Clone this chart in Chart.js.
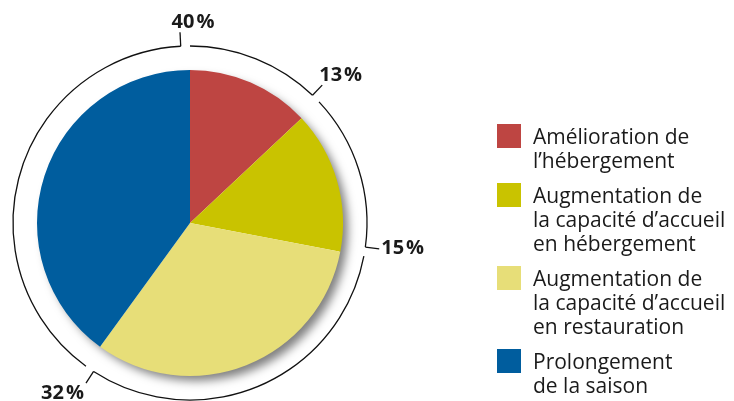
<!DOCTYPE html>
<html lang="fr">
<head>
<meta charset="utf-8">
<title>Répartition des projets</title>
<script src="https://cdn.jsdelivr.net/npm/chart.js@4.4.3/dist/chart.umd.min.js"></script>
<style>
  html, body { margin: 0; padding: 0; background: #fff; }
  #wrap { width: 734px; height: 401px; }
</style>
</head>
<body>
<div id="wrap"><canvas id="pie" width="734" height="401"></canvas></div>
<script>
// catégories (lignes de la légende) et valeurs en %
const categories = [
  ["Amélioration de", "l’hébergement"],
  ["Augmentation de", "la capacité d’accueil", "en hébergement"],
  ["Augmentation de", "la capacité d’accueil", "en restauration"],
  ["Prolongement", "de la saison"],
];
const values = [13, 15, 32, 40];
const colors = ["#BE4542", "#C9C300", "#E7DE78", "#005D9E"];

const FONT = "'Open Sans', 'Noto Sans', sans-serif";
const INK = "#1a1a1a";

/** ombre portée sous le camembert */
const shadowPlugin = {
  id: "pieShadow",
  beforeDatasetsDraw(chart) {
    const arc = chart.getDatasetMeta(0).data[0];
    if (!arc) return;
    const ctx = chart.ctx;
    ctx.save();
    ctx.shadowColor = "rgba(0,0,0,0.5)";
    ctx.shadowBlur = 10;
    ctx.shadowOffsetX = 6;
    ctx.shadowOffsetY = 6;
    ctx.fillStyle = "#ffffff";
    ctx.beginPath();
    ctx.arc(arc.x, arc.y, arc.outerRadius - 1, 0, Math.PI * 2);
    ctx.fill();
    ctx.restore();
  },
};

/** anneau extérieur avec repères + étiquettes %, puis légende à droite */
const ringPlugin = {
  id: "ringLabels",
  afterDraw(chart) {
    const meta = chart.getDatasetMeta(0);
    const ctx = chart.ctx;
    const cx = meta.data[0].x, cy = meta.data[0].y;
    const R = meta.data[0].outerRadius + 24;
    const gap = (3 * Math.PI) / 180;
    const tickLen = 14;

    ctx.save();
    ctx.strokeStyle = "#111";
    ctx.lineWidth = 1.3;
    meta.data.forEach((arc, i) => {
      const a0 = arc.startAngle, a1 = arc.endAngle - gap;
      ctx.beginPath();
      ctx.arc(cx, cy, R, a0, a1);
      ctx.stroke();

      // repère radial
      const x1 = cx + R * Math.cos(a1), y1 = cy + R * Math.sin(a1);
      const x2 = cx + (R + tickLen) * Math.cos(a1), y2 = cy + (R + tickLen) * Math.sin(a1);
      ctx.beginPath();
      ctx.moveTo(x1, y1);
      ctx.lineTo(x2, y2);
      ctx.stroke();

      // étiquette
      const dx = Math.cos(a1), dy = Math.sin(a1);
      ctx.fillStyle = INK;
      ctx.font = "bold 20px " + FONT;
      const num = String(values[i]);
      const wNum = ctx.measureText(num).width;
      const wPct = ctx.measureText("%").width;
      const w = wNum + 2 + wPct;
      let tx, ty;
      if (dx > 0.3) tx = x2 + (dy < -0.3 ? -3 : 2);
      else if (dx < -0.3) tx = x2 - 2 - w;
      else tx = x2 + 13 - w / 2;
      ctx.textBaseline = "alphabetic";
      if (dy < -0.3) ty = y2 - 4;
      else if (dy > 0.3) ty = y2 + 16;
      else ty = y2 + 5;
      ctx.textAlign = "left";
      ctx.fillText(num, tx, ty);
      ctx.fillText("%", tx + wNum + 2, ty);
    });
    ctx.restore();

    // légende
    ctx.save();
    ctx.font = "21px " + FONT;
    ctx.textAlign = "left";
    ctx.textBaseline = "alphabetic";
    let top = 124;
    categories.forEach((lines, i) => {
      ctx.fillStyle = colors[i];
      ctx.fillRect(497, top, 24, 24);
      ctx.fillStyle = INK;
      lines.forEach((t, k) => ctx.fillText(t, 533, top + 20 + k * 24));
      top += lines.length * 24 + 11;
    });
    ctx.restore();
  },
};

new Chart(document.getElementById("pie"), {
  type: "pie",
  data: {
    labels: categories.map((l) => l.join(" ")),
    datasets: [{ data: values, backgroundColor: colors, borderWidth: 0 }],
  },
  options: {
    responsive: false,
    animation: false,
    layout: { padding: { left: 37, right: 391, top: 70, bottom: 25 } },
    plugins: { legend: { display: false }, tooltip: { enabled: false } },
  },
  plugins: [shadowPlugin, ringPlugin],
});
</script>
</body>
</html>
